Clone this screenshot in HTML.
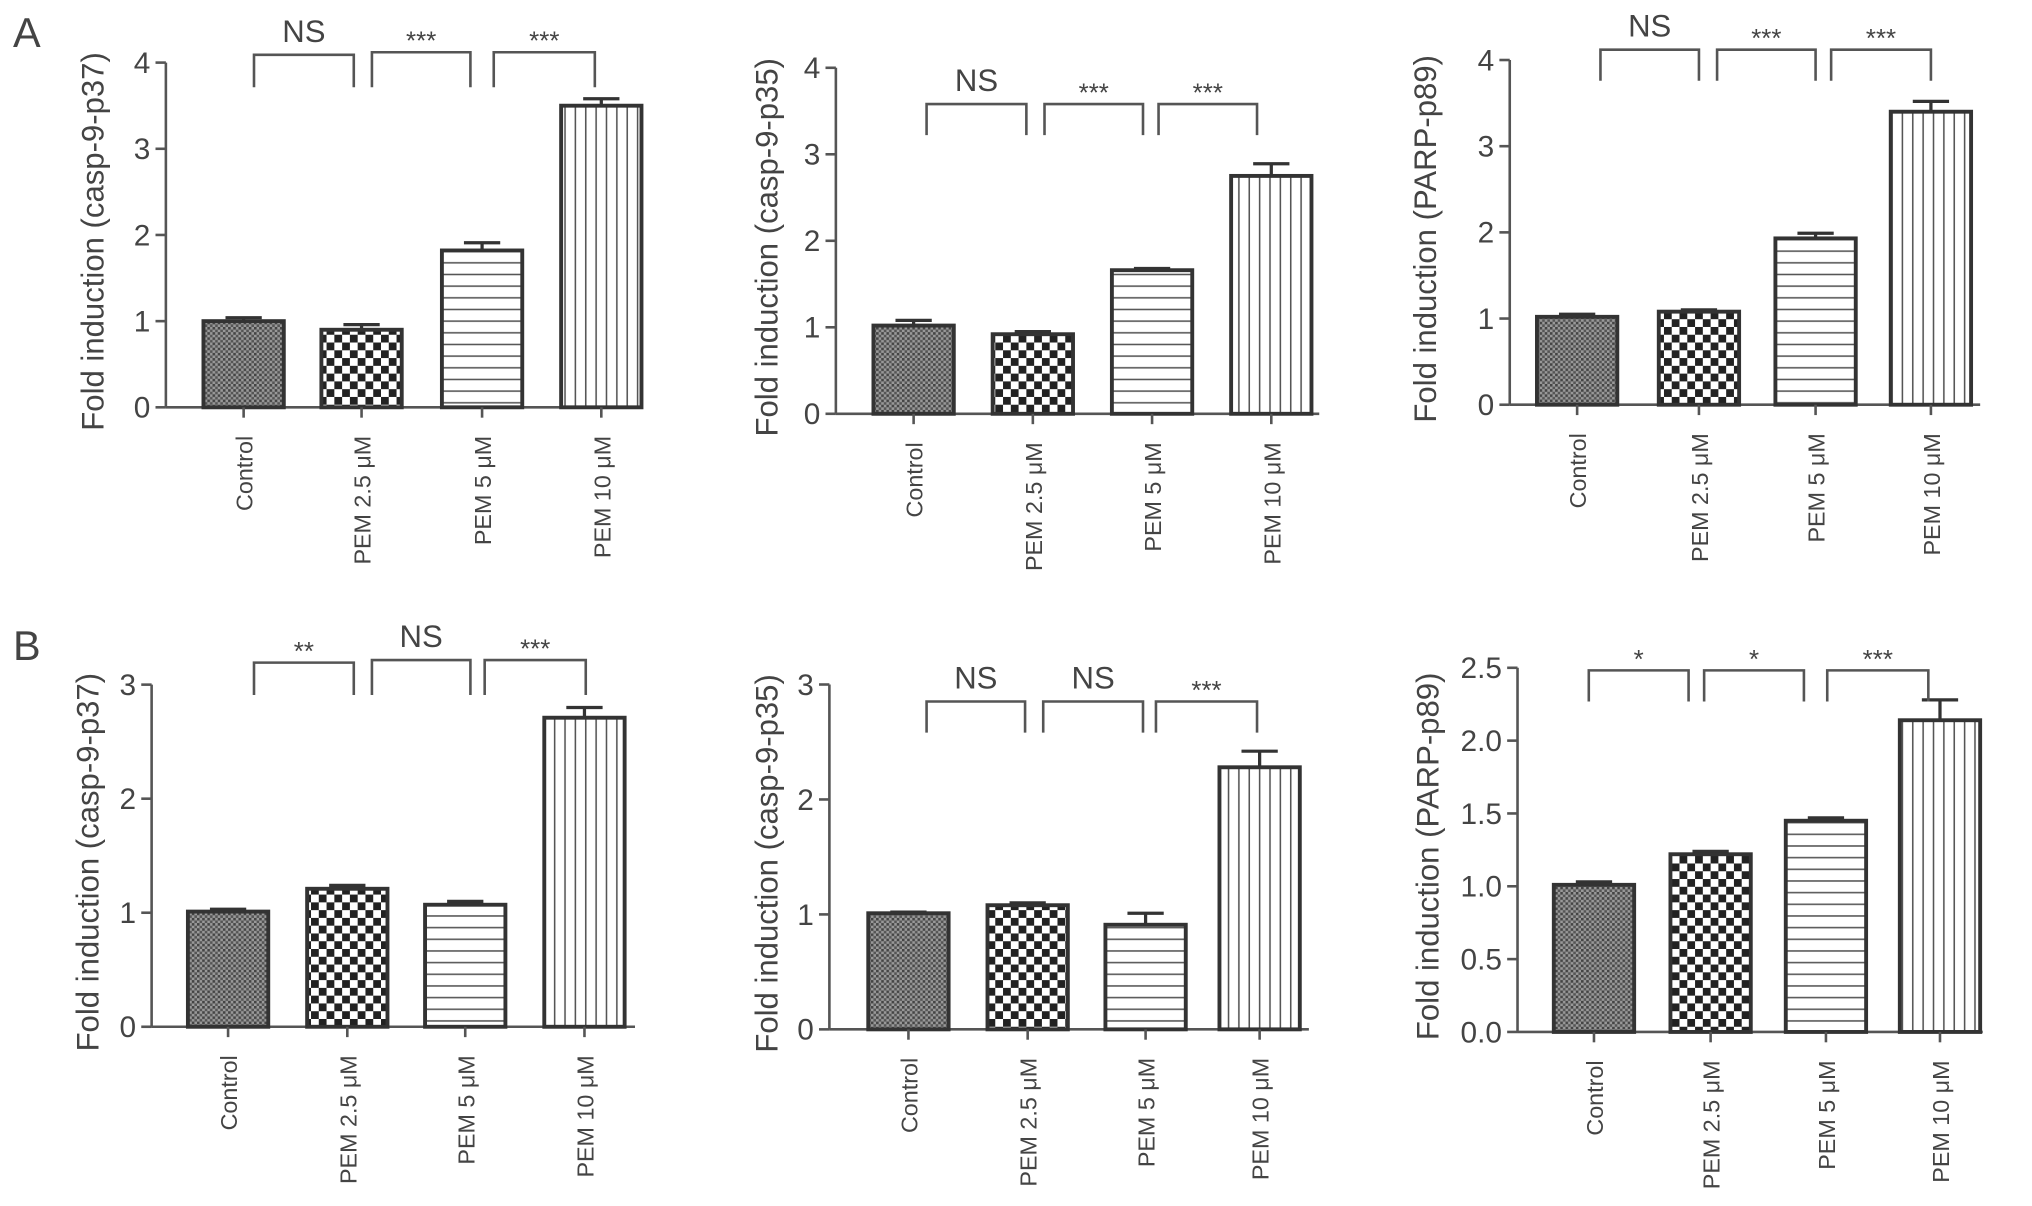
<!DOCTYPE html>
<html><head><meta charset="utf-8"><style>
html,body{margin:0;padding:0;background:#fff;}
svg{display:block;}
text{font-family:"Liberation Sans",sans-serif;fill:#444;}
</style></head><body>
<svg id="fig" width="2032" height="1206" viewBox="0 0 1568 930" xmlns="http://www.w3.org/2000/svg">
<defs>
<pattern id="pCtrl" width="4" height="4" patternUnits="userSpaceOnUse"><rect width="4" height="4" fill="#999"/><rect width="2" height="2" fill="#444"/><rect x="2" y="2" width="2" height="2" fill="#555"/></pattern>
<pattern id="pChk" width="12" height="12" patternUnits="userSpaceOnUse"><rect width="12" height="12" fill="#fff"/><rect width="6" height="6" fill="#222"/><rect x="6" y="6" width="6" height="6" fill="#222"/></pattern>
<pattern id="pH" width="10" height="9" patternUnits="userSpaceOnUse"><rect width="10" height="9" fill="#fff"/><line x1="0" y1="4.5" x2="10" y2="4.5" stroke="#555" stroke-width="1.2"/></pattern>
<pattern id="pV" width="8" height="10" patternUnits="userSpaceOnUse"><rect width="8" height="10" fill="#fff"/><line x1="4" y1="0" x2="4" y2="10" stroke="#555" stroke-width="1.2"/></pattern>
</defs>
<text x="10" y="36" font-size="32">A</text>
<text x="10" y="509" font-size="32">B</text>
</svg>
<script>
const categories = ["Control", "PEM 2.5 μM", "PEM 5 μM", "PEM 10 μM"];
const yTitles = ["Fold induction (casp-9-p37)", "Fold induction (casp-9-p35)", "Fold induction (PARP-p89)", "Fold induction (casp-9-p37)", "Fold induction (casp-9-p35)", "Fold induction (PARP-p89)"];
const valuesA1 = [1.0, 0.9, 1.82, 3.5];
const errorsA1 = [0.04, 0.06, 0.09, 0.08];
const valuesA2 = [1.02, 0.92, 1.66, 2.75];
const errorsA2 = [0.06, 0.03, 0.02, 0.14];
const valuesA3 = [1.02, 1.08, 1.93, 3.4];
const errorsA3 = [0.03, 0.02, 0.06, 0.12];
const valuesB1 = [1.01, 1.21, 1.07, 2.71];
const errorsB1 = [0.02, 0.03, 0.03, 0.09];
const valuesB2 = [1.01, 1.08, 0.91, 2.28];
const errorsB2 = [0.01, 0.02, 0.1, 0.14];
const valuesB3 = [1.01, 1.22, 1.45, 2.14];
const errorsB3 = [0.02, 0.02, 0.02, 0.14];
const ticks4 = ["0", "1", "2", "3", "4"];
const ticks3 = ["0", "1", "2", "3"];
const ticks25 = ["0.0", "0.5", "1.0", "1.5", "2.0", "2.5"];
const sigA1 = ["NS", "***", "***"];
const sigA2 = ["NS", "***", "***"];
const sigA3 = ["NS", "***", "***"];
const sigB1 = ["**", "NS", "***"];
const sigB2 = ["NS", "NS", "***"];
const sigB3 = ["*", "*", "***"];

const NS = "http://www.w3.org/2000/svg";
const svg = document.getElementById('fig');
const fills = ["url(#pCtrl)", "url(#pChk)", "url(#pH)", "url(#pV)"];
function mk(tag, attrs, parent) {
  const e = document.createElementNS(NS, tag);
  for (const k in attrs) e.setAttribute(k, attrs[k]);
  (parent || svg).appendChild(e);
  return e;
}
const panels = [
  {ax:128, y0:314, ppu:66.5, step:1, ticks:ticks4, vals:valuesA1, errs:errorsA1, sig:sigA1, cx:[188,279,372,464], br:[[196,273],[287,363],[381,459]], bTop:[42,40,40], bBot:67, axEnd:492, yl:72, title:yTitles[0]},
  {ax:645, y0:319, ppu:66.75, step:1, ticks:ticks4, vals:valuesA2, errs:errorsA2, sig:sigA2, cx:[705,797,889,981], br:[[715,792],[806,882],[894,970]], bTop:[80,80,80], bBot:104, axEnd:1018, yl:592, title:yTitles[1]},
  {ax:1165, y0:312, ppu:66.5, step:1, ticks:ticks4, vals:valuesA3, errs:errorsA3, sig:sigA3, cx:[1217,1311,1401,1490], br:[[1235,1311],[1325,1401],[1413,1490]], bTop:[38,38,38], bBot:62, axEnd:1528, yl:1100, title:yTitles[2]},
  {ax:117, y0:792, ppu:88, step:1, ticks:ticks3, vals:valuesB1, errs:errorsB1, sig:sigB1, cx:[176,268,359,451], br:[[196,273],[287,363],[374,452]], bTop:[511,509,509], bBot:536, axEnd:490, yl:68, title:yTitles[3]},
  {ax:640, y0:794, ppu:88.7, step:1, ticks:ticks3, vals:valuesB2, errs:errorsB2, sig:sigB2, cx:[701,793,884,972], br:[[715,791],[805,882],[892,970]], bTop:[541,541,541], bBot:565, axEnd:1010, yl:592, title:yTitles[4]},
  {ax:1171, y0:796, ppu:112.4, step:0.5, ticks:ticks25, vals:valuesB3, errs:errorsB3, sig:sigB3, cx:[1230,1320,1409,1497], br:[[1226,1303],[1315,1392],[1410,1488]], bTop:[517,517,517], bBot:541, axEnd:1530, yl:1102, title:yTitles[5]}
];
panels.forEach((p, pi) => {
  const g = mk('g', {});
  
  
  const y = v => p.y0 - v * p.ppu;
  const top = y((p.ticks.length - 1) * p.step);
  const yAxis = mk('line', {x1:p.ax, y1:top, x2:p.ax, y2:p.y0, stroke:'#555', 'stroke-width':2}, g);
  
  
  p.ticks.forEach((t, i) => {
    const ty = y(i * p.step);
    mk('line', {x1:p.ax - 8, y1:ty, x2:p.ax, y2:ty, stroke:'#555', 'stroke-width':2}, g);
    const tl = mk('text', {x:p.ax - 12, y:ty + 8, 'font-size':23, 'text-anchor':'end', fill:'#555'}, g);
    tl.textContent = t;
    
    
  });
  const xAxis = mk('line', {x1:p.ax, y1:p.y0, x2:p.axEnd, y2:p.y0, stroke:'#555', 'stroke-width':2}, g);
  
  
  const yt = mk('text', {x:0, y:0, 'font-size':24, 'text-anchor':'middle', transform:`translate(${p.yl + 8},${(top + p.y0) / 2 + 5}) rotate(-90)`}, g);
  yt.textContent = p.title;
  
  
  p.vals.forEach((v, i) => {
    const cx = p.cx[i], w = 62;
    const eTop = y(v + p.errs[i]);
    mk('line', {x1:cx, y1:eTop, x2:cx, y2:y(v), stroke:'#333', 'stroke-width':2.5}, g);
    mk('line', {x1:cx - 14, y1:eTop, x2:cx + 14, y2:eTop, stroke:'#333', 'stroke-width':2.5}, g);
    const bar = mk('rect', {x:cx - w / 2, y:y(v), width:w, height:v * p.ppu, fill:fills[i], stroke:'#333', 'stroke-width':3}, g);
    
    
    mk('line', {x1:cx, y1:p.y0, x2:cx, y2:p.y0 + 8, stroke:'#555', 'stroke-width':2}, g);
    const cl = mk('text', {x:0, y:0, 'font-size':18, 'text-anchor':'end', fill:'#555', transform:`translate(${cx + 7},${p.y0 + 22}) rotate(-90)`}, g);
    cl.textContent = categories[i];
    
    
  });
  p.br.forEach((b, i) => {
    const t = p.bTop[i];
    const br = mk('path', {d:`M${b[0]},${p.bBot} V${t} H${b[1]} V${p.bBot}`, fill:'none', stroke:'#555', 'stroke-width':2}, g);
    
    
    const isNS = p.sig[i] === 'NS';
    const st = mk('text', {x:(b[0] + b[1]) / 2, y:isNS ? t - 10 : t - 2, 'font-size':isNS ? 24 : 20, 'text-anchor':'middle'}, g);
    st.textContent = p.sig[i];
    
    
  });
});
</script>
</body></html>
